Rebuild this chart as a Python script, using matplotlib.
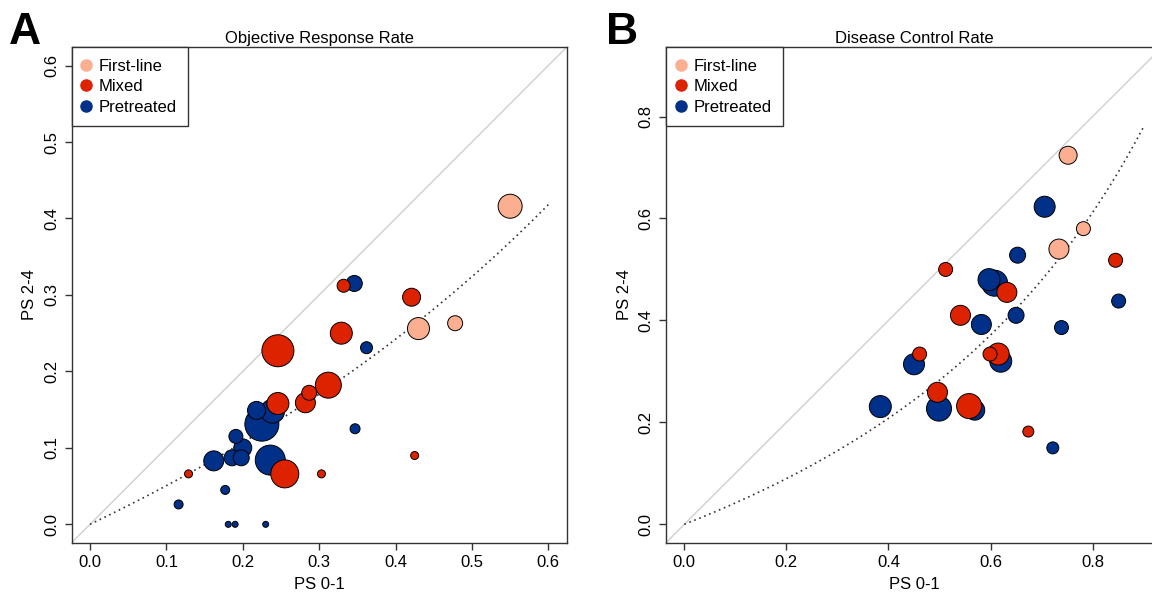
import numpy as np
import matplotlib
matplotlib.use("Agg")
import matplotlib.pyplot as plt
from matplotlib.lines import Line2D

plt.rcParams['font.family'] = ['Liberation Sans', 'DejaVu Sans']

# colours for the three groups
col = {"First-line": "#FCAF90", "Mixed": "#DD2200", "Pretreated": "#003087"}
groups = ["First-line", "Mixed", "Pretreated"]

# ---- Panel A: objective response rate (PS 0-1 vs PS 2-4), radius ~ study size
a_pre_x = [0.225, 0.236, 0.239, 0.162, 0.200, 0.218, 0.186, 0.198, 0.346, 0.191, 0.362, 0.347, 0.116, 0.177, 0.181, 0.190, 0.230]
a_pre_y = [0.131, 0.084, 0.148, 0.083, 0.100, 0.149, 0.087, 0.087, 0.315, 0.115, 0.231, 0.125, 0.026, 0.045, 0.000, 0.000, 0.000]
a_pre_w = [17, 15, 12, 10, 9, 9, 8, 8, 8, 7, 6, 5, 4.5, 4.5, 3, 3, 3]

a_mix_x = [0.246, 0.255, 0.312, 0.246, 0.329, 0.282, 0.421, 0.287, 0.332, 0.129, 0.303, 0.425]
a_mix_y = [0.227, 0.066, 0.182, 0.158, 0.250, 0.159, 0.297, 0.172, 0.312, 0.066, 0.066, 0.090]
a_mix_w = [16, 14, 13, 11, 11, 10, 9, 7.5, 6.5, 4, 4, 4]

a_fl_x = [0.550, 0.430, 0.478]
a_fl_y = [0.416, 0.256, 0.263]
a_fl_w = [12, 11, 7.5]

# ---- Panel B: disease control rate
b_pre_x = [0.608, 0.499, 0.597, 0.620, 0.384, 0.450, 0.706, 0.582, 0.569, 0.653, 0.650, 0.851, 0.739, 0.722]
b_pre_y = [0.473, 0.227, 0.480, 0.320, 0.231, 0.314, 0.623, 0.392, 0.224, 0.528, 0.410, 0.438, 0.386, 0.150]
b_pre_w = [13, 12.5, 11, 11, 11, 10.5, 10.5, 10, 10, 8, 8, 7, 7, 6]

b_mix_x = [0.558, 0.615, 0.632, 0.541, 0.496, 0.599, 0.512, 0.461, 0.845, 0.674]
b_mix_y = [0.232, 0.334, 0.455, 0.410, 0.259, 0.334, 0.500, 0.334, 0.518, 0.182]
b_mix_w = [12.5, 11, 10, 10, 10, 7, 7, 7, 7, 5.5]

b_fl_x = [0.734, 0.752, 0.782]
b_fl_y = [0.540, 0.724, 0.580]
b_fl_w = [10, 9, 7]

# pooled odds ratios for the dotted fitted curves
or_a, xmax_a = 0.479, 0.6
or_b, xmax_b = 0.394, 0.9

FS = 12


def fitted(p, orr):
    o = p / (1 - p) * orr
    return o / (1 + o)


def panel(ax, pts, orr, xmax, ticks, title):
    ax.axline((0, 0), slope=1, color="#cfcfcf", lw=1, zorder=1)
    xs = np.linspace(0, xmax, 200)
    ax.plot(xs, fitted(xs, orr), color="#333333", lw=1.2, ls=(0, (1, 2.2)), zorder=2)
    for g in ["Pretreated", "Mixed", "First-line"]:
        x, y, w = pts[g]
        s = (2 * np.array(w) * 0.72) ** 2
        ax.scatter(x, y, s=s, c=col[g], edgecolors="black", linewidths=0.7, zorder=3)
    pad = xmax * 0.04
    ax.set_xlim(-pad, xmax + pad)
    ax.set_ylim(-pad, xmax + pad)
    ax.set_xticks(ticks)
    ax.set_yticks(ticks)
    ax.set_xticklabels([f"{t:.1f}" for t in ticks])
    ax.set_yticklabels([f"{t:.1f}" for t in ticks], rotation=90, va="center")
    ax.tick_params(length=5, width=1, labelsize=FS, color="#333333", pad=4)
    for sp in ax.spines.values():
        sp.set_linewidth(1)
        sp.set_color("#333333")
    ax.set_xlabel("PS 0-1", fontsize=FS, labelpad=5)
    ax.set_ylabel("PS 2-4", fontsize=FS, labelpad=5)
    ax.set_title(title, fontsize=FS, pad=3)
    handles = [Line2D([], [], ls="none", marker="o", ms=8, mfc=col[g], mec=col[g]) for g in groups]
    leg = ax.legend(handles, groups, loc="upper left", borderaxespad=0, fontsize=FS,
                    fancybox=False, edgecolor="#333333", framealpha=1,
                    handletextpad=0.55, handlelength=0.4, labelspacing=0.34, borderpad=0.68)
    leg.get_frame().set_linewidth(1)


fig = plt.figure(figsize=(11.52, 5.98), dpi=100)
axA = fig.add_axes([0.0622, 0.0925, 0.4297, 0.8286])
axB = fig.add_axes([0.5781, 0.0925, 0.4306, 0.8286])

panel(axA, {"Pretreated": (a_pre_x, a_pre_y, a_pre_w), "Mixed": (a_mix_x, a_mix_y, a_mix_w),
            "First-line": (a_fl_x, a_fl_y, a_fl_w)},
      or_a, xmax_a, [0.0, 0.1, 0.2, 0.3, 0.4, 0.5, 0.6], "Objective Response Rate")
panel(axB, {"Pretreated": (b_pre_x, b_pre_y, b_pre_w), "Mixed": (b_mix_x, b_mix_y, b_mix_w),
            "First-line": (b_fl_x, b_fl_y, b_fl_w)},
      or_b, xmax_b, [0.0, 0.2, 0.4, 0.6, 0.8], "Disease Control Rate")

# panel letters
fig.text(9 / 1152, 1 - 44 / 598, "A", fontsize=32, fontweight="bold", ha="left", va="baseline")
fig.text(606 / 1152, 1 - 44 / 598, "B", fontsize=32, fontweight="bold", ha="left", va="baseline")

fig.savefig("out.png", dpi=100)
